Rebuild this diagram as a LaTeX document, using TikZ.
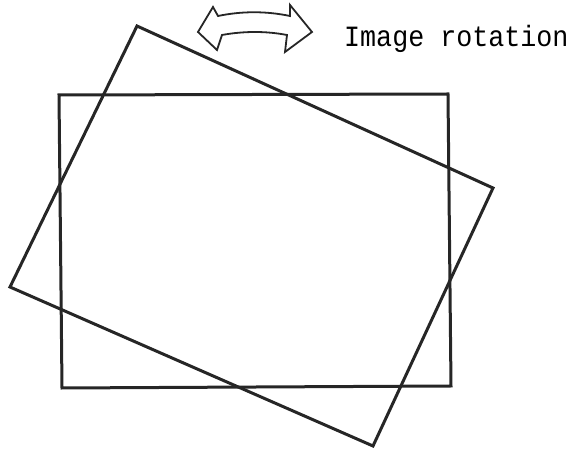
\documentclass[tikz,border=0pt]{standalone}
\usepackage{fontspec}
\newfontfamily\monofont{Liberation Mono}
\begin{document}
\begin{tikzpicture}[x=1pt,y=-1pt,
  frame/.style={draw=black!85,line width=3pt,line join=miter},
  arrowshape/.style={draw=black!85,line width=1.8pt,line join=miter,fill=white}]
\useasboundingbox (0,0) rectangle (574,454);
% axis-aligned frame
\draw[frame] (59,95) -- (448,94) -- (451,386) -- (62,388) -- cycle;
% rotated frame
\draw[frame] (137,26) -- (493,188) -- (373,446) -- (10,287) -- cycle;
% curved double arrow
\draw[arrowshape] (213,7) -- (198,32) -- (217,50) -- (222,35)
  .. controls (244,31) and (266,31) .. (287,35)
  -- (285,52) -- (312,32) -- (290,5) -- (290,16)
  .. controls (266,11) and (242,11) .. (218,16) -- cycle;
\node[anchor=base west,inner sep=0pt,yscale=1.1,font=\monofont\fontsize{26.7}{30}\selectfont] (lbl) at (344,47) {Image rotation};
\end{tikzpicture}
\end{document}
